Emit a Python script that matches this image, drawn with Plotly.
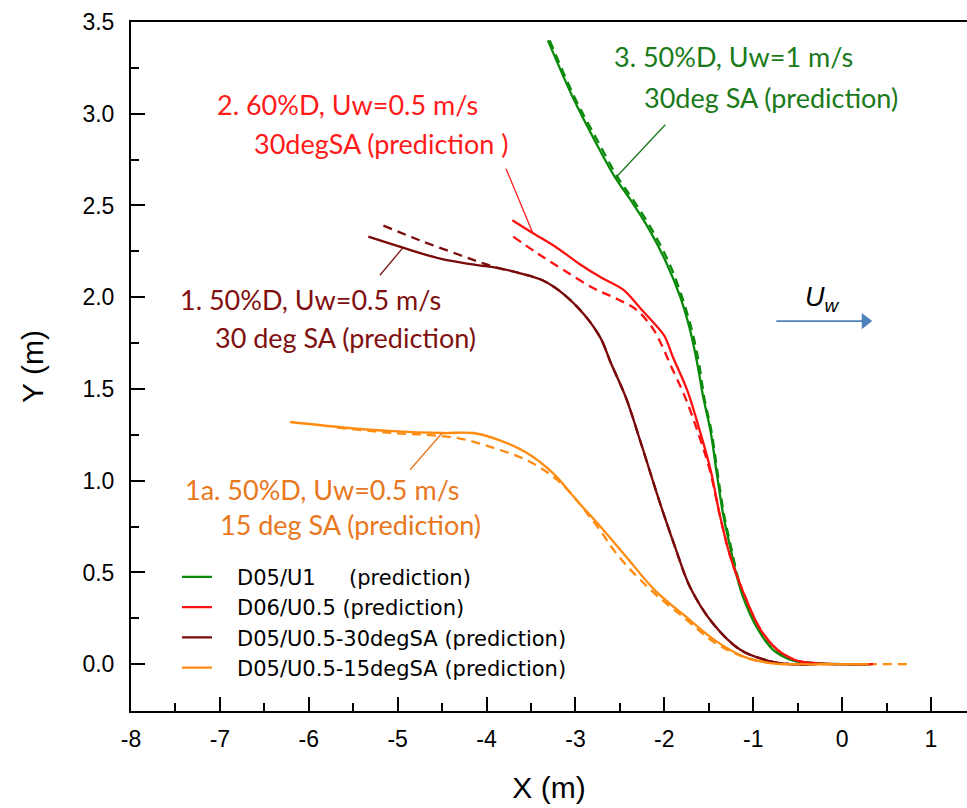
import plotly.graph_objects as go

# ---- data: bank profiles X (m) vs Y (m) ----
# 3. D05/U1 (50%D, Uw=1 m/s, 30 deg SA)
g_pred_x = [-3.31, -3.03, -2.80, -2.55, -2.38, -2.16, -1.97, -1.82, -1.71, -1.63, -1.56, -1.48, -1.41,
            -1.34, -1.26, -1.18, -1.11, -0.96, -0.78, -0.55, -0.28, 0.0, 0.31]
g_pred_y = [3.40, 3.09, 2.87, 2.65, 2.53, 2.36, 2.18, 2.00, 1.82, 1.64, 1.45, 1.27, 1.04,
            0.82, 0.64, 0.47, 0.36, 0.20, 0.08, 0.02, 0.005, 0.0, 0.0]
g_meas_x = [-3.29, -3.01, -2.77, -2.52, -2.35, -2.13, -1.94, -1.80, -1.69, -1.61, -1.55, -1.47, -1.40,
            -1.33, -1.25, -1.17, -1.10, -0.95, -0.77, -0.54, -0.27, 0.0, 0.33]
g_meas_y = g_pred_y

# 2. D06/U0.5 (60%D, Uw=0.5 m/s, 30 deg SA)
r_pred_x = [-3.71, -3.48, -3.21, -2.95, -2.72, -2.46, -2.27, -2.10, -2.00, -1.90, -1.74, -1.60, -1.48,
            -1.37, -1.26, -1.11, -0.92, -0.73, -0.51, -0.28, 0.03, 0.35]
r_pred_y = [2.42, 2.35, 2.27, 2.18, 2.11, 2.04, 1.94, 1.85, 1.79, 1.67, 1.49, 1.27, 1.06,
            0.80, 0.59, 0.39, 0.19, 0.08, 0.02, 0.005, 0.0, 0.0]
r_meas_x = [-3.70, -3.43, -3.14, -2.80, -2.53, -2.31, -2.13, -2.03, -1.93, -1.77, -1.62, -1.49,
            -1.37, -1.26, -1.11, -0.92, -0.73, -0.51, -0.28, 0.03, 0.35]
r_meas_y = [2.33, 2.24, 2.15, 2.05, 1.99, 1.93, 1.83, 1.74, 1.63, 1.46, 1.26, 1.06,
            0.80, 0.59, 0.39, 0.19, 0.08, 0.02, 0.005, 0.0, 0.0]

# 1. D05/U0.5-30degSA (50%D, Uw=0.5 m/s, 30 deg SA)
d_pred_x = [-5.33, -4.94, -4.52, -4.18, -3.88, -3.62, -3.36, -3.14, -2.91, -2.72, -2.60, -2.43,
            -2.26, -2.05, -1.88, -1.71, -1.45, -1.15, -0.84, -0.58, -0.30]
d_pred_y = [2.33, 2.27, 2.21, 2.18, 2.16, 2.13, 2.09, 2.02, 1.91, 1.78, 1.64, 1.45,
            1.20, 0.88, 0.64, 0.42, 0.22, 0.08, 0.02, 0.0, 0.0]
d_meas_x = [-5.16, -4.75, -4.30, -4.07, -3.88, -3.62, -3.36, -3.14, -2.91, -2.72, -2.60, -2.43,
            -2.26, -2.05, -1.88, -1.71, -1.45, -1.15, -0.84, -0.58, -0.30]
d_meas_y = [2.39, 2.31, 2.23, 2.19, 2.16, 2.13, 2.09, 2.02, 1.91, 1.78, 1.64, 1.45,
            1.20, 0.88, 0.64, 0.42, 0.22, 0.08, 0.02, 0.0, 0.0]

# 1a. D05/U0.5-15degSA (50%D, Uw=0.5 m/s, 15 deg SA)
o_pred_x = [-6.21, -5.61, -5.05, -4.49, -4.15, -3.85, -3.54, -3.25, -2.98, -2.72, -2.42, -2.10,
            -1.76, -1.43, -1.10, -0.78, -0.47, -0.10, 0.30]
o_pred_y = [1.32, 1.29, 1.27, 1.26, 1.26, 1.22, 1.15, 1.04, 0.89, 0.75, 0.58, 0.40,
            0.26, 0.13, 0.04, 0.005, 0.0, 0.0, 0.0]
o_meas_x = [-5.68, -5.05, -4.67, -4.30, -3.93, -3.54, -3.17, -2.80, -2.50, -2.12, -1.77, -1.44,
            -1.11, -0.79, -0.47, -0.10, 0.30, 0.74]
o_meas_y = [1.29, 1.26, 1.25, 1.23, 1.18, 1.11, 0.99, 0.78, 0.58, 0.39, 0.25, 0.12,
            0.04, 0.005, 0.0, 0.0, 0.0, 0.0]

series_names = ["D05/U1\u00a0\u00a0\u00a0\u00a0\u00a0(prediction)", "D06/U0.5 (prediction)",
                "D05/U0.5-30degSA (prediction)", "D05/U0.5-15degSA (prediction)"]
line_colors = ["#0a8a0a", "#ff1010", "#7a0a0a", "#ff8c10"]
text_colors = ["#1a7a1a", "#ff1a1a", "#801010", "#e8771e"]

x_ticks = [-8, -7, -6, -5, -4, -3, -2, -1, 0, 1]
y_ticks = [0.0, 0.5, 1.0, 1.5, 2.0, 2.5, 3.0, 3.5]

# current direction arrow (start, end) in axis units
uw_x = [-0.74, 0.26]
uw_y = [1.87, 1.87]

fig = go.Figure()

pred = [(g_pred_x, g_pred_y), (r_pred_x, r_pred_y), (d_pred_x, d_pred_y), (o_pred_x, o_pred_y)]
meas = [(g_meas_x, g_meas_y), (r_meas_x, r_meas_y), (d_meas_x, d_meas_y), (o_meas_x, o_meas_y)]

# dashed profiles (not in legend)
for (mx, my), c in zip(meas, line_colors):
    fig.add_trace(go.Scatter(x=mx, y=my, mode="lines", showlegend=False, hoverinfo="skip",
                             line=dict(color=c, width=2.3, dash="9px,6px", shape="spline", smoothing=1.0)))

# solid prediction profiles
for (px, py), c, n in zip(pred, line_colors, series_names):
    fig.add_trace(go.Scatter(x=px, y=py, mode="lines", name="\u00a0\u00a0\u00a0" + n,
                             line=dict(color=c, width=2.3, shape="spline", smoothing=1.0)))

label_font = "Lato, 'Open Sans', sans-serif"
labels = [
    # (x, y, text, color index)
    (-2.59, 3.31, "3. 50%D, Uw=1 m/s", 0),
    (-2.25, 3.09, "30deg SA (prediction)", 0),
    (-7.05, 3.05, "2. 60%D, Uw=0.5 m/s", 1),
    (-6.64, 2.84, "30degSA (prediction )", 1),
    (-7.47, 1.99, "1. 50%D, Uw=0.5 m/s", 2),
    (-7.08, 1.78, "30 deg SA (prediction)", 2),
    (-7.41, 0.95, "1a. 50%D, Uw=0.5 m/s", 3),
    (-7.02, 0.76, "15 deg SA (prediction)", 3),
]
for x, y, t, ci in labels:
    fig.add_annotation(x=x, y=y, text=t, showarrow=False, xanchor="left", yanchor="middle",
                       font=dict(family=label_font, size=27, color=text_colors[ci]))

# leader lines from labels to curves
leaders = [
    ((-2.55, 2.65), (-1.99, 2.94), 0),
    ((-3.48, 2.35), (-3.78, 2.70), 1),
    ((-4.94, 2.27), (-5.20, 2.12), 2),
    ((-4.50, 1.26), (-4.86, 1.06), 3),
]
for (x0, y0), (x1, y1), ci in leaders:
    fig.add_shape(type="line", x0=x0, y0=y0, x1=x1, y1=y1, xref="x", yref="y",
                  line=dict(color=text_colors[ci], width=1.3))

# wave current direction arrow: shaft + filled head
fig.add_trace(go.Scatter(x=uw_x, y=uw_y, mode="lines", showlegend=False, hoverinfo="skip",
                         line=dict(color="#4f81bd", width=1.8)))
fig.add_trace(go.Scatter(x=[uw_x[1]], y=[uw_y[1]], mode="markers", showlegend=False, hoverinfo="skip",
                         marker=dict(symbol="triangle-right", size=14, color="#4f81bd")))
fig.add_annotation(x=-0.22, y=1.99, text="<i>U<sub>w</sub></i>", showarrow=False,
                   font=dict(family="Liberation Sans, Arial", size=27, color="black"))

axis_common = dict(
    showline=True, linecolor="black", linewidth=2,
    ticks="inside", ticklen=14, tickwidth=1.6, tickcolor="black",
    showgrid=False, zeroline=False,
    tickfont=dict(family="Liberation Sans, Arial", size=23, color="black"),
)

fig.update_xaxes(**axis_common, range=[-8, 1.405], tickvals=x_ticks,
                 ticktext=[str(v) for v in x_ticks], mirror=True,
                 minor=dict(ticks="inside", ticklen=8, tickwidth=1.6, tickcolor="black", dtick=0.5),
                 ticklabelstandoff=6,
                 title=dict(text="X (m)", font=dict(family="Liberation Sans, Arial", size=30, color="black"),
                            standoff=26))
fig.update_yaxes(**axis_common, range=[-0.255, 3.5], tickvals=y_ticks,
                 ticktext=[f"{v:.1f}" for v in y_ticks],
                 minor=dict(ticks="inside", ticklen=8, tickwidth=1.6, tickcolor="black", dtick=0.25),
                 ticklabelstandoff=10,
                 title=dict(text="Y (m)", font=dict(family="Liberation Sans, Arial", size=30, color="black"),
                            standoff=30))

fig.update_layout(
    width=967, height=808,
    margin=dict(l=131, r=0, t=22, b=97),
    plot_bgcolor="white", paper_bgcolor="white",
    legend=dict(x=0.055, y=0.224, xanchor="left", yanchor="top",
                bgcolor="rgba(255,255,255,0)", borderwidth=0,
                font=dict(family="DejaVu Sans, Liberation Sans", size=21, color="black"),
                tracegroupgap=0, itemwidth=30),
)

fig.write_html("out.html")
